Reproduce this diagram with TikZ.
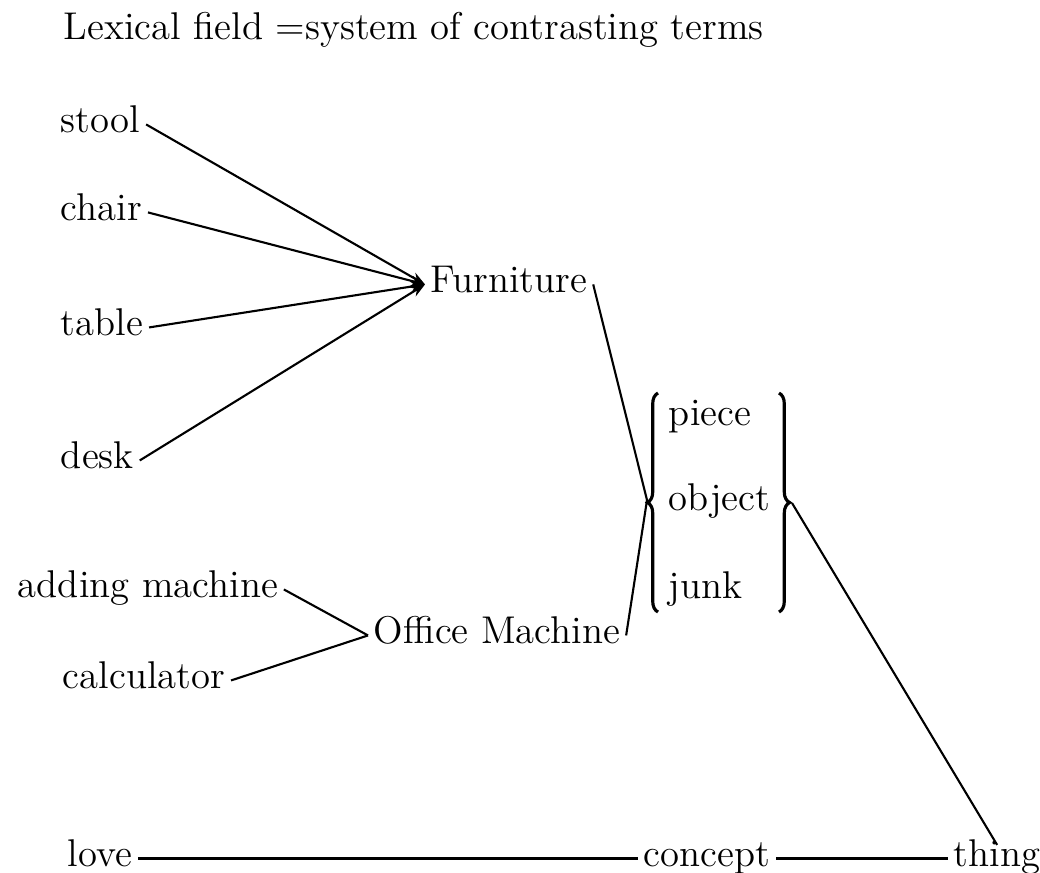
\documentclass[tikz,border=0pt]{standalone}
\usepackage{tikz}
\usetikzlibrary{arrows.meta,decorations.pathreplacing}

\begin{document}
\begin{tikzpicture}[x=0.01cm, y=-0.01cm,
        every node/.style={font=\fontsize{11}{13.2}\selectfont},
        term/.style={inner sep=1.5pt, anchor=base west, text height=1ex, text depth=0pt},
        link/.style={line width=0.6pt},
        group/.style={decorate, decoration={brace, amplitude=3pt}, line width=0.9pt}]
            \useasboundingbox (0,0) rectangle (1040,872);

            % Title
            \node[anchor=base west, inner sep=0pt] (Title) at (63,39) {Lexical field =system of contrasting terms};

            % Furniture
            \node[term] (Stool) at (55,132) {stool};
            \node[term] (Chair) at (55,220) {chair};
            \node[term] (Table) at (55,335) {table};
            \node[term] (Desk) at (55,468) {desk};
            \node[term] (Furniture) at (425,292) {Furniture};
            \draw[link, -{Stealth[length=4pt,width=3pt]}] (Stool.east) -- (Furniture.west);
            \draw[link, -{Stealth[length=4pt,width=3pt]}] (Chair.east) -- (Furniture.west);
            \draw[link, -{Stealth[length=4pt,width=3pt]}] (Table.east) -- (Furniture.west);
            \draw[link, -{Stealth[length=4pt,width=3pt]}] (Desk.east) -- (Furniture.west);

            % Office Machine
            \node[term] (Adding) at (12,597) {adding machine};
            \node[term] (Calculator) at (57,688) {calculator};
            \node[term] (Office) at (368,643) {Office Machine};
            \draw[link] (Adding.east) -- (Office.west);
            \draw[link] (Calculator.east) -- (Office.west);

            % Group (piece, object, junk)
            \node[term] (Piece) at (663,425) {piece};
            \node[term] (Object) at (663,510) {object};
            \node[term] (Junk) at (663,598) {junk};
            \draw[group] (658,612) -- (658,393);
            \draw[group] (779,393) -- (779,612);
            \coordinate (LBrace) at (647,500);
            \coordinate (RBrace) at (792,503);
            \draw[link] (Furniture.east) -- (LBrace);
            \draw[link] (Office.east) -- (LBrace);

            % Bottom row
            \node[term] (Love) at (62,866) {love};
            \node[term] (Concept) at (638,866) {concept};
            \node[term] (Thing) at (948,866) {thing};
            \draw[link] (Love.east) -- (Concept.west);
            \draw[link] (Concept.east) -- (Thing.west);
            \draw[link] (RBrace) -- (Thing.north);
        \end{tikzpicture}
\end{document}
